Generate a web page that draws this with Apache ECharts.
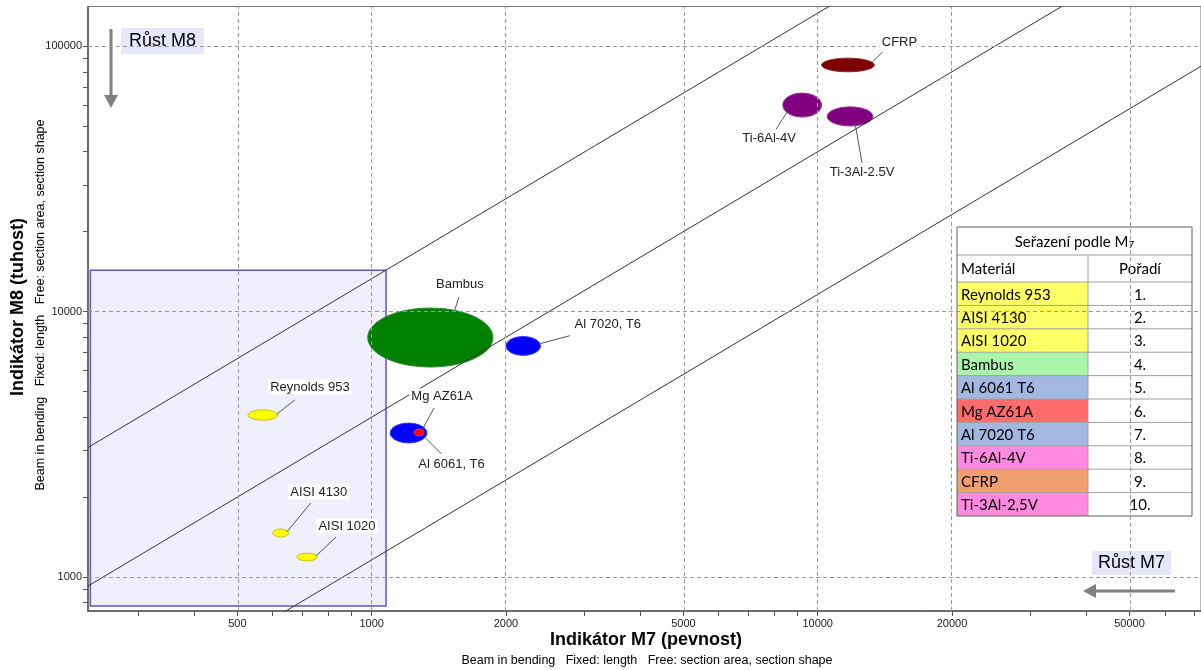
<!DOCTYPE html>
<html>
<head>
<meta charset="utf-8">
<title>Indikátor M7 / M8</title>
<script src="https://cdn.jsdelivr.net/npm/echarts@6/dist/echarts.min.js"></script>
<style>
html, body { margin: 0; padding: 0; background: #fff; }
#chart { width: 1201px; height: 670px; }
</style>
</head>
<body>
<div id="chart"></div>
<script>
// materialy - rozsah M7 (x) a M8 (y)
var materials = ['Reynolds 953', 'AISI 4130', 'AISI 1020', 'Bambus', 'Al 6061, T6', 'Mg AZ61A', 'Al 7020, T6', 'Ti-6Al-4V', 'Ti-3Al-2.5V', 'CFRP'];
var m7Low  = [528, 600, 680, 980, 1100, 1245, 2000, 8350, 10500, 10200];
var m7High = [616, 652, 754, 1870, 1330, 1310, 2390, 10200, 13300, 13400];
var m8Low  = [3900, 1415, 1150, 6180, 3200, 3400, 6840, 54000, 50000, 80000];
var m8High = [4260, 1516, 1230, 10300, 3800, 3610, 8050, 66500, 59000, 90000];

// vodici primky M8 = k * M7
var guideK = [13.3, 4.0, 1.16];

// vybrany obdelnik
var boxM7 = [234, 1077];
var boxM8 = [778, 14300];

// osy
var m7Range = [231.2, 72340];
var m8Range = [744.7, 140900];
var m7Labels = [500, 1000, 2000, 5000, 10000, 20000, 50000];
var m7Minor = [300, 400, 600, 700, 800, 900, 3000, 4000, 6000, 7000, 8000, 9000, 30000, 40000, 60000, 70000];
var m8Labels = [1000, 10000, 100000];
var m8Minor = [800, 900, 2000, 3000, 4000, 5000, 6000, 7000, 8000, 9000, 20000, 30000, 40000, 50000, 60000, 70000, 80000, 90000];

// tabulka serazeni
var rankNames = ['Reynolds 953', 'AISI 4130', 'AISI 1020', 'Bambus', 'Al 6061 T6', 'Mg AZ61A', 'Al 7020 T6', 'Ti-6Al-4V', 'CFRP', 'Ti-3Al-2,5V'];
var rankOrder = ['1.', '2.', '3.', '4.', '5.', '6.', '7.', '8.', '9.', '10.'];

// styly
var fillColors = ['#ffff00', '#ffff00', '#ffff00', '#008000', '#0000ff', '#ff0000', '#0000ff', '#800080', '#800080', '#800000'];
var strokeColors = ['#c4c400', '#c4c400', '#c4c400', '#2a8a2a', '#3a3aff', '#ff3a3a', '#3a3aff', '#9a3a9a', '#9a3a9a', '#8a2a2a'];
var rankColors = ['#ffff66', '#ffff66', '#ffff66', '#aaf5aa', '#a3b8e0', '#ff6b6b', '#a3b8e0', '#ff8ae0', '#f0a070', '#ff8ae0'];
// [textDx, textDy, lineX1, lineY1, lineX2, lineY2] relativne ke stredu elipsy (px)
var labelPos = [
	[47, -28, 14, -1, 32, -15],
	[38, -41, 6, -1, 30, -30],
	[40, -31, 9, -1, 29, -20],
	[29.5, -53.5, 24.5, -27.5, 28.5, -40.5],
	[43, 31, 16, 4, 33, 21],
	[23, -36.5, 3, -2.5, 15, -24.5],
	[84.6, -21.2, 16.6, -2.2, 46.6, -10.2],
	[-33, 33, -15, 7, -26, 24],
	[12, 56.5, 5, 6.5, 12, 46.5],
	[51.5, -23, 24.5, -3, 34.5, -13]
];

var FONT = '"Liberation Sans", Arial, sans-serif';
var TFONT = 'Lato, "Noto Sans", sans-serif';
var lg = function(v){ return Math.log10(v); };
var fmt = function(v){ return String(Math.round(Math.pow(10, v))); };

var ellipseData = materials.map(function(n, i){
	return [lg(m7Low[i]), lg(m7High[i]), lg(m8Low[i]), lg(m8High[i]), i];
});

var x0 = lg(m7Range[0]), x1 = lg(m7Range[1]);
var guideSeries = guideK.map(function(k){
	return {
		type: 'line', z: 4, silent: true, symbol: 'none', clip: true,
		lineStyle: {color: '#333', width: 1},
		data: [[x0, x0 + lg(k)], [x1, x1 + lg(k)]]
	};
});

function txt(x, y, text, font, align, extra){
	var el = {type: 'text', x: x, y: y, style: {text: text, font: font, fill: '#000',
		align: align, verticalAlign: 'middle', textAlign: align, textVerticalAlign: 'middle'}};
	if (extra) {
		for (var k in extra) el[k] = extra[k];
	}
	return el;
}

// sipky a popisky (graphic)
var graphics = [];
graphics.push({type: 'line', shape: {x1: 111, y1: 29, x2: 111, y2: 97}, style: {stroke: '#808080', lineWidth: 3}});
graphics.push({type: 'polygon', shape: {points: [[104, 95], [118, 95], [111, 108]]}, style: {fill: '#808080'}});
graphics.push({type: 'rect', shape: {x: 121, y: 28, width: 83, height: 26}, style: {fill: '#e6e6fc'}});
graphics.push(txt(162.5, 41.5, 'Růst M8', '18px ' + FONT, 'center'));

graphics.push({type: 'line', shape: {x1: 1175, y1: 591, x2: 1094, y2: 591}, style: {stroke: '#808080', lineWidth: 3}});
graphics.push({type: 'polygon', shape: {points: [[1096, 584], [1096, 598], [1083, 591]]}, style: {fill: '#808080'}});
graphics.push({type: 'rect', shape: {x: 1092, y: 551, width: 79, height: 24}, style: {fill: '#e6e6fc'}});
graphics.push(txt(1131.5, 563, 'Růst M7', '18px ' + FONT, 'center'));

// nazvy os
var subTitle = 'Beam in bending   Fixed: length   Free: section area, section shape';
graphics.push(txt(646, 640, 'Indikátor M7 (pevnost)', 'bold 18px ' + FONT, 'center'));
graphics.push(txt(647, 661, subTitle, '12.5px ' + FONT, 'center'));
graphics.push(txt(18, 307, 'Indikátor M8 (tuhost)', 'bold 18px ' + FONT, 'center', {rotation: Math.PI / 2}));
graphics.push(txt(41, 305, subTitle, '12.5px ' + FONT, 'center', {rotation: Math.PI / 2}));

// tabulka
var tx0 = 957, tx1 = 1192, tcol = 1088, ty0 = 227, tHead = 255, tRow0 = 282, rowH = 23.4;
var tyEnd = tRow0 + rowH * rankNames.length;
graphics.push({type: 'rect', shape: {x: tx0, y: ty0, width: tx1 - tx0, height: tyEnd - ty0}, style: {fill: '#fff'}});
for (var i = 0; i < rankNames.length; i++) {
	var ry = tRow0 + i * rowH;
	graphics.push({type: 'rect', shape: {x: tx0, y: ry, width: tcol - tx0, height: rowH}, style: {fill: rankColors[i]}});
	graphics.push(txt(tx0 + 4, ry + rowH / 2 + 1, rankNames[i], '15px ' + TFONT, 'left'));
	graphics.push(txt((tcol + tx1) / 2, ry + rowH / 2 + 1, rankOrder[i], '15px ' + TFONT, 'center'));
	graphics.push({type: 'line', shape: {x1: tx0, y1: ry, x2: tx1, y2: ry}, style: {stroke: '#a0a0a0', lineWidth: 1}});
}
graphics.push({type: 'line', shape: {x1: tx0, y1: tHead, x2: tx1, y2: tHead}, style: {stroke: '#a0a0a0', lineWidth: 1}});
graphics.push({type: 'line', shape: {x1: tcol, y1: tHead, x2: tcol, y2: tyEnd}, style: {stroke: '#a0a0a0', lineWidth: 1}});
graphics.push({type: 'text', x: (tx0 + tx1) / 2, y: (ty0 + tHead) / 2 + 1, style: {
	text: '{a|Seřazení podle M}{b|7}', align: 'center', verticalAlign: 'middle', textAlign: 'center', textVerticalAlign: 'middle',
	rich: {
		a: {font: '15px ' + TFONT, fill: '#000', color: '#000', height: 20, verticalAlign: 'bottom'},
		b: {font: '10px ' + TFONT, fill: '#000', color: '#000', height: 14, verticalAlign: 'bottom'}
	}
}});
graphics.push(txt(tx0 + 4, (tHead + tRow0) / 2 + 1, 'Materiál', '15px ' + TFONT, 'left'));
graphics.push(txt((tcol + tx1) / 2, (tHead + tRow0) / 2 + 1, 'Pořadí', '15px ' + TFONT, 'center'));
graphics.push({type: 'rect', shape: {x: tx0, y: ty0, width: tx1 - tx0, height: tyEnd - ty0}, style: {fill: 'none', stroke: '#606060', lineWidth: 1}});

var chart = echarts.init(document.getElementById('chart'), null, {renderer: 'canvas'});
var option = {
	animation: false,
	backgroundColor: '#fff',
	grid: {left: 88, right: 0, top: 6.5, bottom: 59, containLabel: false, show: true, borderColor: '#777', borderWidth: 1},
	xAxis: {
		type: 'value', min: x0, max: x1,
		axisLine: {show: true, lineStyle: {color: '#555', width: 1.5}},
		axisTick: {show: true, length: 5, customValues: m7Labels.concat(m7Minor).map(lg), lineStyle: {color: '#555'}},
		axisLabel: {customValues: m7Labels.map(lg), formatter: fmt, color: '#222', fontSize: 11, fontFamily: FONT, margin: 7},
		splitLine: {show: false}
	},
	yAxis: {
		type: 'value', min: lg(m8Range[0]), max: lg(m8Range[1]),
		axisLine: {show: true, lineStyle: {color: '#555', width: 1.5}},
		axisTick: {show: true, length: 5, customValues: m8Labels.concat(m8Minor).map(lg), lineStyle: {color: '#555'}},
		axisLabel: {customValues: m8Labels.map(lg), formatter: fmt, color: '#222', fontSize: 11, fontFamily: FONT, margin: 6},
		splitLine: {show: false}
	},
	graphic: graphics,
	series: [
		{
			type: 'custom', z: 1, silent: true,
			data: [[lg(boxM7[0]), lg(boxM7[1]), lg(boxM8[0]), lg(boxM8[1])]],
			encode: {x: [0, 1], y: [2, 3]},
			renderItem: function(params, api){
				var a = api.coord([api.value(0), api.value(3)]);
				var b = api.coord([api.value(1), api.value(2)]);
				return {type: 'rect', shape: {x: a[0], y: a[1], width: b[0] - a[0], height: b[1] - a[1]},
					style: {fill: 'rgba(205,205,248,0.32)', stroke: '#5a5ab8', lineWidth: 1.5}};
			},
			markLine: {
				silent: true, symbol: ['none', 'none'], label: {show: false},
				lineStyle: {color: '#9a9a9a', width: 1, type: [4, 3]},
				data: m7Labels.map(function(v){ return {xAxis: lg(v)}; }).concat(m8Labels.map(function(v){ return {yAxis: lg(v)}; }))
			}
		},
		{
			type: 'custom', z: 3, silent: true,
			data: ellipseData,
			encode: {x: [0, 1], y: [2, 3]},
			renderItem: function(params, api){
				var a = api.coord([api.value(0), api.value(3)]);
				var b = api.coord([api.value(1), api.value(2)]);
				var i = api.value(4);
				return {type: 'ellipse', shape: {cx: (a[0] + b[0]) / 2, cy: (a[1] + b[1]) / 2, rx: (b[0] - a[0]) / 2, ry: (b[1] - a[1]) / 2},
					style: {fill: fillColors[i], stroke: strokeColors[i], lineWidth: 1}};
			}
		}
	].concat(guideSeries).concat([
		{
			type: 'custom', z: 6, silent: true,
			data: ellipseData,
			encode: {x: [0, 1], y: [2, 3]},
			renderItem: function(params, api){
				var i = api.value(4);
				var c = api.coord([(api.value(0) + api.value(1)) / 2, (api.value(2) + api.value(3)) / 2]);
				var L = labelPos[i];
				return {type: 'group', children: [
					{type: 'line', shape: {x1: c[0] + L[2], y1: c[1] + L[3], x2: c[0] + L[4], y2: c[1] + L[5]}, style: {stroke: '#555', lineWidth: 1}},
					{type: 'text', x: c[0] + L[0], y: c[1] + L[1], style: {text: materials[i], font: '13px ' + FONT, fill: '#222',
						align: 'center', verticalAlign: 'middle', textAlign: 'center', textVerticalAlign: 'middle',
						backgroundColor: '#fff', padding: [1, 2, 1, 2]}}
				]};
			}
		}
	])
};
chart.setOption(option);
</script>
</body>
</html>
